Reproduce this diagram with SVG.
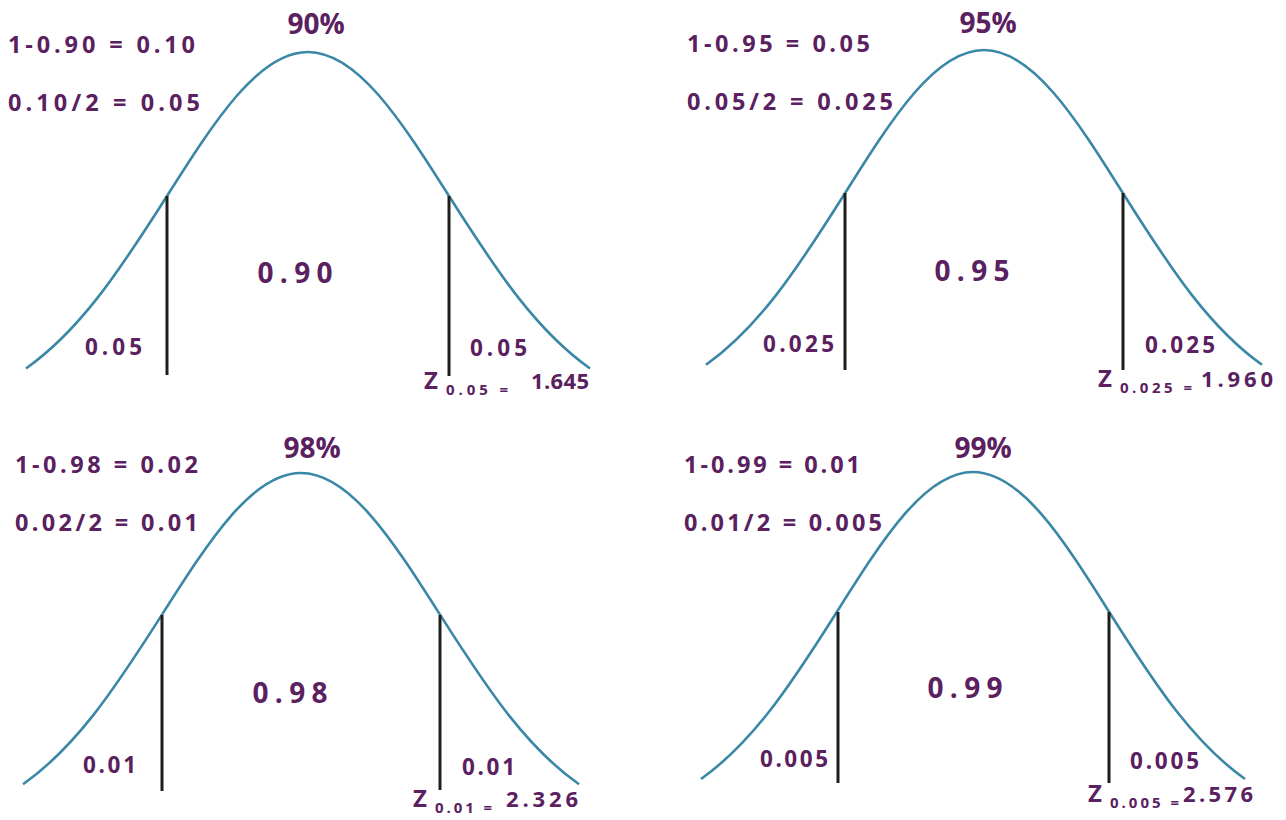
<svg xmlns="http://www.w3.org/2000/svg" width="1286" height="820" viewBox="0 0 1286 820">
<style>
text{font-family:"Open Sans","Liberation Sans",sans-serif;font-weight:bold;fill:#5a2060}
.pct{font-size:28px;text-anchor:middle}
.eq{font-size:23.5px}
.mid{font-size:28px;text-anchor:middle}
.tail{font-size:22.5px}
.z{font-size:22px}
.zl{font-size:24px}
.sub{font-size:15px}
.curve{fill:none;stroke:#3a87a6;stroke-width:2.6;vector-effect:non-scaling-stroke}
.cut{stroke:#1e1e1e;stroke-width:3}
</style>
<rect width="1286" height="820" fill="#ffffff"/>

<g id="panel90">
<path class="curve" transform="translate(308 418) scale(141 366)" d="M-2 -0.13534 C-1.83333 -0.18045 -1.66667 -0.24349 -1.5 -0.32465 C-1.33333 -0.40581 -1.16667 -0.50544 -1 -0.60653 C-0.83333 -0.70762 -0.66667 -0.80896 -0.5 -0.8825 C-0.33333 -0.95604 -0.16667 -1 0 -1 C0.16667 -1 0.33333 -0.95604 0.5 -0.8825 C0.66667 -0.80896 0.83333 -0.70762 1 -0.60653 C1.16667 -0.50544 1.33333 -0.40581 1.5 -0.32465 C1.66667 -0.24349 1.83333 -0.18045 2 -0.13534"/>
<line class="cut" x1="167" y1="196" x2="167" y2="375"/>
<line class="cut" x1="449" y1="196" x2="449" y2="376"/>
<text class="pct" x="316" y="34">90%</text>
<text class="eq" x="8" y="53" textLength="187" lengthAdjust="spacing">1-0.90 = 0.10</text>
<text class="eq" x="8" y="111" textLength="192" lengthAdjust="spacing">0.10/2 = 0.05</text>
<text class="mid" x="295" y="283" textLength="75" lengthAdjust="spacing">0.90</text>
<text class="tail" x="85" y="355" textLength="57" lengthAdjust="spacing">0.05</text>
<text class="tail" x="470" y="356" textLength="57" lengthAdjust="spacing">0.05</text>
<text class="zl" x="424" y="389">Z</text>
<text class="sub" x="446" y="395" textLength="62" lengthAdjust="spacing">0.05 =</text>
<text class="z" x="531" y="389" textLength="58" lengthAdjust="spacing">1.645</text>
</g>

<g id="panel95">
<path class="curve" transform="translate(984 414) scale(139 364)" d="M-2 -0.13534 C-1.83333 -0.18045 -1.66667 -0.24349 -1.5 -0.32465 C-1.33333 -0.40581 -1.16667 -0.50544 -1 -0.60653 C-0.83333 -0.70762 -0.66667 -0.80896 -0.5 -0.8825 C-0.33333 -0.95604 -0.16667 -1 0 -1 C0.16667 -1 0.33333 -0.95604 0.5 -0.8825 C0.66667 -0.80896 0.83333 -0.70762 1 -0.60653 C1.16667 -0.50544 1.33333 -0.40581 1.5 -0.32465 C1.66667 -0.24349 1.83333 -0.18045 2 -0.13534"/>
<line class="cut" x1="845" y1="193" x2="845" y2="370"/>
<line class="cut" x1="1123" y1="193" x2="1123" y2="370"/>
<text class="pct" x="988" y="33">95%</text>
<text class="eq" x="687" y="52" textLength="183" lengthAdjust="spacing">1-0.95 = 0.05</text>
<text class="eq" x="687" y="110" textLength="206" lengthAdjust="spacing">0.05/2 = 0.025</text>
<text class="mid" x="972" y="281" textLength="75" lengthAdjust="spacing">0.95</text>
<text class="tail" x="763" y="352" textLength="71" lengthAdjust="spacing">0.025</text>
<text class="tail" x="1145" y="353" textLength="70" lengthAdjust="spacing">0.025</text>
<text class="zl" x="1098" y="387">Z</text>
<text class="sub" x="1120" y="393" textLength="72" lengthAdjust="spacing">0.025 =</text>
<text class="z" x="1201" y="387" textLength="72" lengthAdjust="spacing">1.960</text>
</g>

<g id="panel98">
<path class="curve" transform="translate(301 833) scale(139 360)" d="M-2 -0.13534 C-1.83333 -0.18045 -1.66667 -0.24349 -1.5 -0.32465 C-1.33333 -0.40581 -1.16667 -0.50544 -1 -0.60653 C-0.83333 -0.70762 -0.66667 -0.80896 -0.5 -0.8825 C-0.33333 -0.95604 -0.16667 -1 0 -1 C0.16667 -1 0.33333 -0.95604 0.5 -0.8825 C0.66667 -0.80896 0.83333 -0.70762 1 -0.60653 C1.16667 -0.50544 1.33333 -0.40581 1.5 -0.32465 C1.66667 -0.24349 1.83333 -0.18045 2 -0.13534"/>
<line class="cut" x1="162" y1="615" x2="162" y2="791"/>
<line class="cut" x1="440" y1="615" x2="440" y2="790"/>
<text class="pct" x="312" y="458">98%</text>
<text class="eq" x="15" y="473" textLength="183" lengthAdjust="spacing">1-0.98 = 0.02</text>
<text class="eq" x="15" y="531" textLength="183" lengthAdjust="spacing">0.02/2 = 0.01</text>
<text class="mid" x="290" y="703" textLength="75" lengthAdjust="spacing">0.98</text>
<text class="tail" x="83" y="773" textLength="53" lengthAdjust="spacing">0.01</text>
<text class="tail" x="462" y="775" textLength="53" lengthAdjust="spacing">0.01</text>
<text class="zl" x="413" y="807">Z</text>
<text class="sub" x="435" y="813" textLength="57" lengthAdjust="spacing">0.01 =</text>
<text class="z" x="506" y="807" textLength="72" lengthAdjust="spacing">2.326</text>
</g>

<g id="panel99">
<path class="curve" transform="translate(973 827) scale(136 355)" d="M-2 -0.13534 C-1.83333 -0.18045 -1.66667 -0.24349 -1.5 -0.32465 C-1.33333 -0.40581 -1.16667 -0.50544 -1 -0.60653 C-0.83333 -0.70762 -0.66667 -0.80896 -0.5 -0.8825 C-0.33333 -0.95604 -0.16667 -1 0 -1 C0.16667 -1 0.33333 -0.95604 0.5 -0.8825 C0.66667 -0.80896 0.83333 -0.70762 1 -0.60653 C1.16667 -0.50544 1.33333 -0.40581 1.5 -0.32465 C1.66667 -0.24349 1.83333 -0.18045 2 -0.13534"/>
<line class="cut" x1="838" y1="612" x2="838" y2="783"/>
<line class="cut" x1="1109" y1="612" x2="1109" y2="783"/>
<text class="pct" x="983" y="458">99%</text>
<text class="eq" x="684" y="473" textLength="176" lengthAdjust="spacing">1-0.99 = 0.01</text>
<text class="eq" x="684" y="531" textLength="198" lengthAdjust="spacing">0.01/2 = 0.005</text>
<text class="mid" x="965" y="698" textLength="75" lengthAdjust="spacing">0.99</text>
<text class="tail" x="760" y="767" textLength="68" lengthAdjust="spacing">0.005</text>
<text class="tail" x="1130" y="769" textLength="69" lengthAdjust="spacing">0.005</text>
<text class="zl" x="1088" y="802">Z</text>
<text class="sub" x="1110" y="808" textLength="69" lengthAdjust="spacing">0.005 =</text>
<text class="z" x="1183" y="802" textLength="70" lengthAdjust="spacing">2.576</text>
</g>
</svg>
